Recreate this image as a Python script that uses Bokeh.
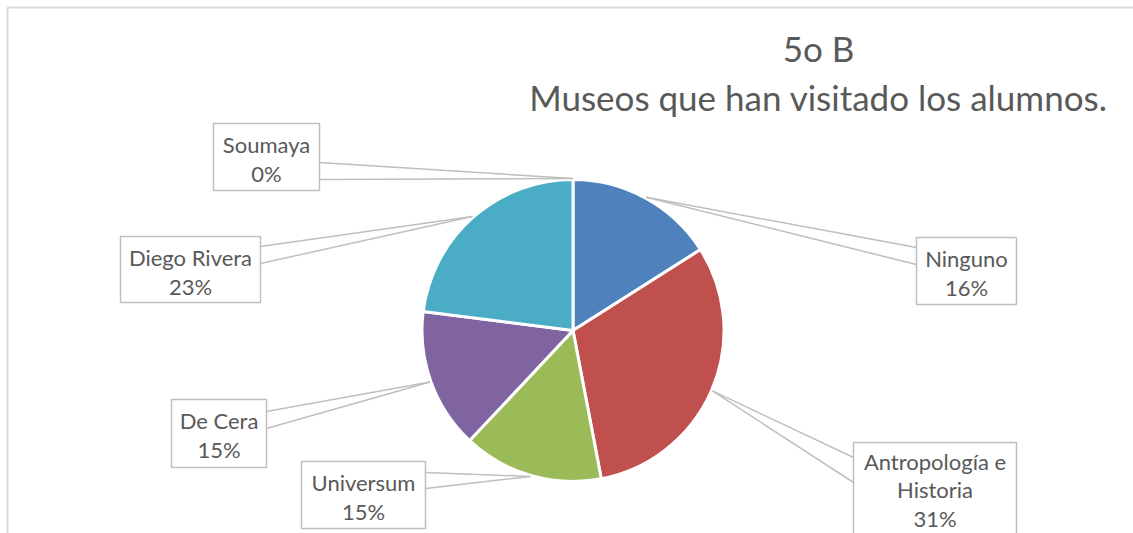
import math
from bokeh.plotting import figure
from bokeh.models import Range1d, ColumnDataSource
from bokeh.core.properties import value
from bokeh.embed import file_html
from bokeh.resources import INLINE

# ---- data ----
categories = ["Ninguno", "Antropología e Historia", "Universum", "De Cera", "Diego Rivera", "Soumaya"]
percentages = [16, 31, 15, 15, 23, 0]
label_lines = [["Ninguno"], ["Antropología e", "Historia"], ["Universum"], ["De Cera"], ["Diego Rivera"], ["Soumaya"]]
colors = ["#4F81BD", "#C0504D", "#9BBB59", "#8064A2", "#4BACC6", "#F79646"]
title_lines = ["5o B", "Museos que han visitado los alumnos."]

# ---- layout (screen pixels) ----
W, H = 1133, 533
def X(sx): return sx
def Y(sy): return H - sy

CX, CY, R = X(572.5), Y(330), 151
FONT = "Lato"
TXT = "#595959"
GRID = "#BFBFBF"
LBL = 22
TTL = 35
def base(sy, size):
    # place the alphabetic baseline of a text at screen y
    return Y(sy) + 0.42 * size

# label boxes: left, top, right, bottom, leader side x, leader y1, y2, first baseline offset, line step
boxes = [
    (916, 237, 1016, 304, 916, 247, 264, 30, 29),
    (853, 442, 1016, 570, 853, 457, 482, 28, 28.5),
    (301, 461, 425, 528, 425, 472, 488, 30, 29),
    (171, 399, 266, 467, 266, 411, 428, 30, 29),
    (120, 236, 260, 302, 260, 246, 263, 30, 29),
    (213, 123, 319, 190, 319, 162, 179, 30, 29),
]

p = figure(width=W, height=H, output_backend="svg", toolbar_location=None,
           x_range=Range1d(0, W), y_range=Range1d(0, H), min_border=0)
p.axis.visible = False
p.grid.visible = False
p.outline_line_color = None
p.background_fill_color = "white"
p.border_fill_color = "white"

# chart border (top and left visible)
p.segment(x0=[X(7), X(7)], y0=[Y(7), Y(7)], x1=[X(1133), X(7)], y1=[Y(7), Y(533)],
          line_color="#D9D9D9", line_width=2)

# pie wedges
total = float(sum(percentages))
starts, ends, mids = [], [], []
cum = 0.0
for v in percentages:
    a0 = math.pi / 2 - 2 * math.pi * cum / total
    cum += v
    a1 = math.pi / 2 - 2 * math.pi * cum / total
    starts.append(a0); ends.append(a1); mids.append((a0 + a1) / 2)

idx = [i for i, v in enumerate(percentages) if v > 0]
src = ColumnDataSource(dict(
    start=[starts[i] for i in idx], end=[ends[i] for i in idx],
    color=[colors[i] for i in idx]))
p.wedge(x=CX, y=CY, radius=R, radius_units="screen", start_angle="start", end_angle="end",
        direction="clock", fill_color="color", line_color="white", line_width=3, source=src)

# leader lines and label boxes
lx0, ly0, lx1, ly1 = [], [], [], []
for i, bx in enumerate(boxes):
    l, t, r, b, sx, y1, y2 = bx[:7]
    tx = CX + (R + 1) * math.cos(mids[i])
    ty = CY + (R + 1) * math.sin(mids[i])
    for yy in (y1, y2):
        lx0.append(X(sx)); ly0.append(Y(yy)); lx1.append(tx); ly1.append(ty)
p.segment(x0=lx0, y0=ly0, x1=lx1, y1=ly1, line_color=GRID, line_width=1.5)

p.quad(left=[X(b[0]) for b in boxes], right=[X(b[2]) for b in boxes],
       top=[Y(b[1]) for b in boxes], bottom=[Y(b[3]) for b in boxes],
       fill_color="white", line_color=GRID, line_width=1.5)

tx_, ty_, tt_ = [], [], []
for i, bx in enumerate(boxes):
    l, t, r = bx[0], bx[1], bx[2]
    off, step = bx[7], bx[8]
    lines = label_lines[i] + ["%d%%" % percentages[i]]
    for k, s in enumerate(lines):
        tx_.append(X((l + r) / 2)); ty_.append(base(t + off + step * k, LBL)); tt_.append(s)
p.text(x=tx_, y=ty_, text=tt_, text_align="center", text_baseline="alphabetic",
       text_font=value(FONT), text_font_size="%dpx" % LBL, text_color=TXT)

# title
p.text(x=[X(818), X(818)], y=[base(62, TTL), base(111, TTL)], text=title_lines, text_align="center",
       text_baseline="alphabetic", text_font=value(FONT), text_font_size="%dpx" % TTL, text_color=TXT)

open("out.html", "w").write(file_html(p, INLINE))
